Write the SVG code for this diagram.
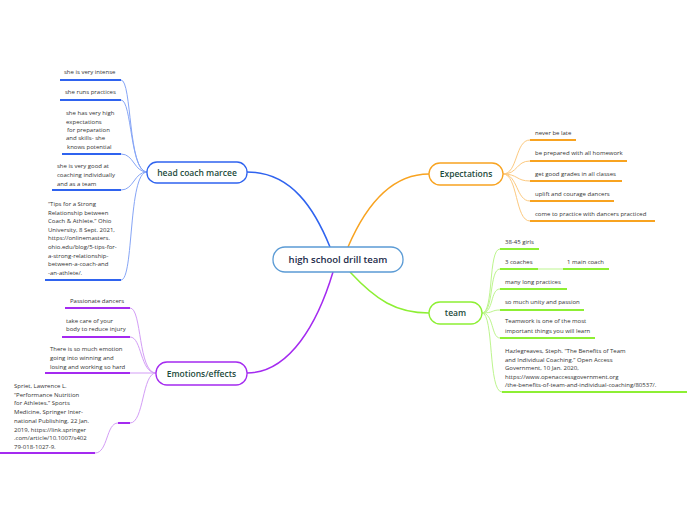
<svg xmlns="http://www.w3.org/2000/svg" width="696" height="520" viewBox="0 0 696 520">
<style>
.leaf{font-family:"Open Sans","Noto Sans",sans-serif;font-size:6px;fill:#333}
.node{font-family:"Open Sans","Noto Sans",sans-serif;font-size:8.5px;font-weight:600;fill:#1d4b3c;text-anchor:middle}
.main{font-family:"Open Sans","Noto Sans",sans-serif;font-size:9.5px;font-weight:600;fill:#1b2a4a;text-anchor:middle}
.c{fill:none}
.bl{stroke:#2f63ef}.blL{stroke:#86a5f6}
.or{stroke:#f8a320}.orL{stroke:#fcc97f}
.gr{stroke:#8def34}.grL{stroke:#bdf58e}
.pu{stroke:#a42af0}.puL{stroke:#d39df6}
.u{stroke-width:2}
.m{stroke-width:1.5}
.l{stroke-width:1}
</style>
<rect width="696" height="520" fill="#fff"/>
<g id="connectors" class="c">
<path class="bl m" d="M247,172 C292,172 315,210 330,247"/>
<path class="or m" d="M348,247 C366,205 392,174 429,174"/>
<path class="pu m" d="M333,272 C318,322 290,373 247,373"/>
<path class="gr m" d="M350,272 C376,300 396,313 429,313"/>
<g class="blL l">
<path d="M121,80 C132,80 128,172 147,172"/>
<path d="M121,100 C132,100 130,172 147,172"/>
<path d="M121,154 C134,154 134,172 147,172"/>
<path d="M121,190 C134,190 134,172 147,172"/>
<path d="M121,280 C134,280 128,172 147,172"/>
</g>
<g class="orL l">
<path d="M503,174 C518,174 515,140 530,140"/>
<path d="M503,174 C518,174 516,161 530,161"/>
<path d="M503,174 C518,174 516,181 530,181"/>
<path d="M503,174 C518,174 516,201 530,201"/>
<path d="M503,174 C518,174 515,221 530,221"/>
</g>
<g class="grL l">
<path d="M482,313 C494,313 488,249 500,249"/>
<path d="M482,313 C494,313 489,269 500,269"/>
<path d="M482,313 C494,313 490,289 500,289"/>
<path d="M482,313 C494,313 491,310 500,310"/>
<path d="M482,313 C494,313 491,338 500,338"/>
<path d="M482,313 C494,313 488,392 502,392"/>
<path d="M538,269 L563,269"/>
</g>
<g class="puL l">
<path d="M130,308 C142,308 138,373 156,373"/>
<path d="M130,337 C142,337 140,373 156,373"/>
<path d="M130,373 L156,373"/>
<path d="M95,453 C108,453 106,423 118,423 M130,423 C144,423 142,373 156,373"/>
</g>
<path class="pu u" d="M118,423 L130,423"/>
</g>
<g id="center">
<rect x="273" y="247" width="130" height="25" rx="12" fill="#fff" stroke="#5b9bd5" stroke-width="1.3"/>
<text class="main" x="338" y="263">high school drill team</text>
</g>
<g id="head-coach">
<rect x="147" y="162" width="100" height="21" rx="10" fill="#fff" stroke="#2f63ef" stroke-width="1.3"/>
<text class="node" x="197" y="175.5">head coach marcee</text>
</g>
<g id="expectations">
<rect x="429" y="163" width="74" height="22" rx="11" fill="#fff" stroke="#f8a320" stroke-width="1.3"/>
<text class="node" x="466" y="177">Expectations</text>
</g>
<g id="team">
<rect x="429" y="302" width="53" height="22" rx="11" fill="#fff" stroke="#8def34" stroke-width="1.3"/>
<text class="node" x="455.5" y="316">team</text>
</g>
<g id="emotions">
<rect x="156" y="362" width="91" height="23" rx="11" fill="#fff" stroke="#a42af0" stroke-width="1.3"/>
<text class="node" x="201.5" y="376.5">Emotions/effects</text>
</g>
<g id="hc1"><text class="leaf" x="64" y="74">she is very intense</text><path class="c bl u" d="M60,80 H121"/></g>
<g id="hc2"><text class="leaf" x="65" y="94">she runs practices</text><path class="c bl u" d="M60,100 H121"/></g>
<g id="hc3"><text class="leaf" x="66"><tspan x="66" y="115">she has very high</tspan><tspan x="66" y="124">expectations</tspan><tspan x="67" y="132">for preparation</tspan><tspan x="66" y="140">and skills- she</tspan><tspan x="67" y="149">knows potential</tspan></text><path class="c bl u" d="M62,154 H121"/></g>
<g id="hc4"><text class="leaf"><tspan x="57" y="168">she is very good at</tspan><tspan x="57" y="177">coaching individually</tspan><tspan x="57" y="186">and as a team</tspan></text><path class="c bl u" d="M52,190 H121"/></g>
<g id="hc5"><text class="leaf"><tspan x="48" y="206">“Tips for a Strong</tspan><tspan x="48" y="214.6">Relationship between</tspan><tspan x="48" y="223.2">Coach &amp; Athlete.” Ohio</tspan><tspan x="48" y="231.8">University, 8 Sept. 2021,</tspan><tspan x="48" y="240.4">https://onlinemasters.</tspan><tspan x="48" y="249">ohio.edu/blog/5-tips-for-</tspan><tspan x="48" y="257.6">a-strong-relationship-</tspan><tspan x="48" y="266.2">between-a-coach-and</tspan><tspan x="48" y="274.8">-an-athlete/.</tspan></text><path class="c bl u" d="M45,280 H121"/></g>
<g id="ex1"><text class="leaf" x="535" y="135">never be late</text><path class="c or u" d="M530,140 H576"/></g>
<g id="ex2"><text class="leaf" x="535" y="155">be prepared with all homework</text><path class="c or u" d="M530,161 H627"/></g>
<g id="ex3"><text class="leaf" x="535" y="176">get good grades in all classes</text><path class="c or u" d="M530,181 H622"/></g>
<g id="ex4"><text class="leaf" x="535" y="196">uplift and courage dancers</text><path class="c or u" d="M530,201 H614"/></g>
<g id="ex5"><text class="leaf" x="535" y="216">come to practice with dancers practiced</text><path class="c or u" d="M530,221 H655"/></g>
<g id="tm1"><text class="leaf" x="505" y="244">38-45 girls</text><path class="c gr u" d="M500,249 H539"/></g>
<g id="tm2"><text class="leaf" x="505" y="264">3 coaches</text><path class="c gr u" d="M500,269 H538"/></g>
<g id="tm2a"><text class="leaf" x="567" y="264">1 main coach</text><path class="c gr u" d="M563,269 H609"/></g>
<g id="tm3"><text class="leaf" x="505" y="284">many long practices</text><path class="c gr u" d="M500,289 H567"/></g>
<g id="tm4"><text class="leaf" x="505" y="304">so much unity and passion</text><path class="c gr u" d="M500,310 H584"/></g>
<g id="tm5"><text class="leaf"><tspan x="505" y="323">Teamwork is one of the most</tspan><tspan x="505" y="333">important things you will learn</tspan></text><path class="c gr u" d="M500,338 H595"/></g>
<g id="tm6"><text class="leaf"><tspan x="505" y="353">Hazlegreaves, Steph. “The Benefits of Team</tspan><tspan x="505" y="361.5">and Individual Coaching.” Open Access</tspan><tspan x="505" y="370">Government, 10 Jan. 2020,</tspan><tspan x="505" y="378.5">https://www.openaccessgovernment.org</tspan><tspan x="505" y="387">/the-benefits-of-team-and-individual-coaching/80537/.</tspan></text><path class="c gr u" d="M502,392 H687"/></g>
<g id="em1"><text class="leaf" x="70" y="303">Passionate dancers</text><path class="c pu u" d="M65,308 H130"/></g>
<g id="em2"><text class="leaf"><tspan x="66" y="323">take care of your</tspan><tspan x="66" y="331">body to reduce injury</tspan></text><path class="c pu u" d="M62,337 H130"/></g>
<g id="em3"><text class="leaf"><tspan x="50" y="351">There is so much emotion</tspan><tspan x="50" y="360">going into winning and</tspan><tspan x="50" y="369">losing and working so hard</tspan></text><path class="c pu u" d="M45,373 H130"/></g>
<g id="em4"><text class="leaf"><tspan x="14" y="388">Spriet, Lawrence L.</tspan><tspan x="14" y="396.7">“Performance Nutrition</tspan><tspan x="14" y="405.4">for  Athletes.” Sports</tspan><tspan x="14" y="414.1">Medicine, Springer Inter-</tspan><tspan x="14" y="422.8">national Publishing, 22 Jan.</tspan><tspan x="14" y="431.5">2019, https://link.springer</tspan><tspan x="14" y="440.2">.com/article/10.1007/s402</tspan><tspan x="14" y="448.9">79-018-1027-9.</tspan></text><path class="c pu u" d="M0,453 H95"/></g>
</svg>
